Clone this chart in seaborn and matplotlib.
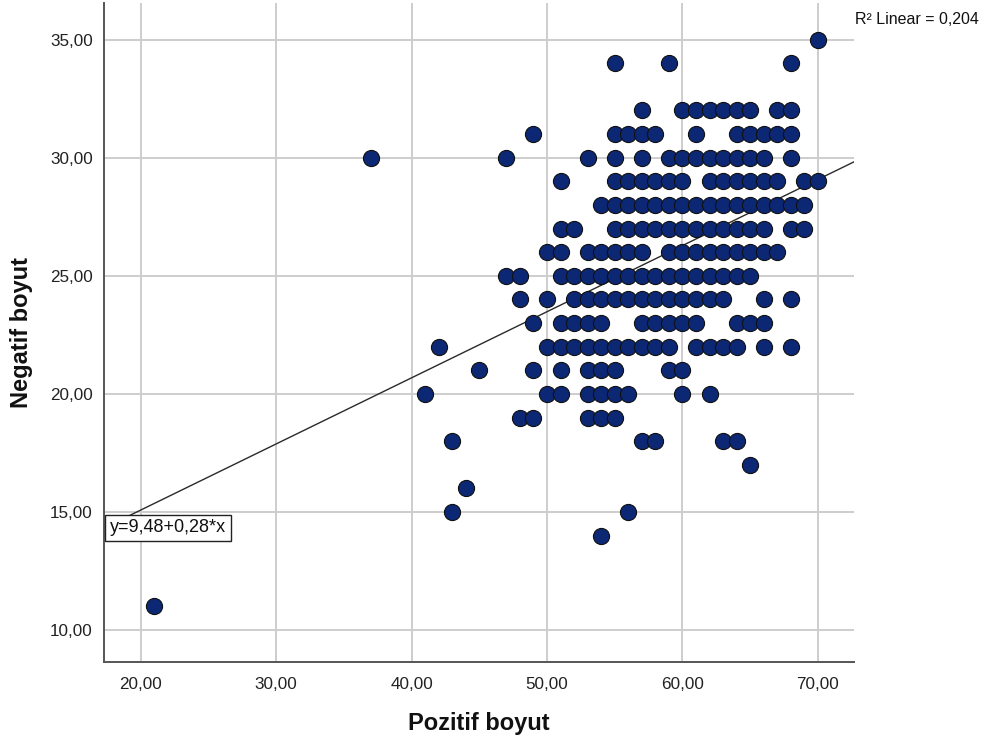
import matplotlib
matplotlib.use("Agg")
import matplotlib.pyplot as plt
import seaborn as sns
import numpy as np
import pandas as pd

# Negatif boyut levels and the Pozitif boyut scores observed at each level
negatif_levels = [35, 34, 32, 31, 30, 29, 28, 27, 26, 25, 24, 23, 22, 21, 20, 19, 18, 17, 16, 15, 14, 11]
pozitif_by_level = [
    [70],
    [55, 59, 68],
    [57, 60, 61, 62, 63, 64, 65, 67, 68],
    [49, 55, 56, 57, 58, 61, 64, 65, 66, 67, 68],
    [37, 47, 53, 55, 57, 59, 60, 61, 62, 63, 64, 65, 66, 68],
    [51, 55, 56, 57, 58, 59, 60, 62, 63, 64, 65, 66, 67, 69, 70],
    [54, 55, 56, 57, 58, 59, 60, 61, 62, 63, 64, 65, 66, 67, 68, 69],
    [51, 52, 55, 56, 57, 58, 59, 60, 61, 62, 63, 64, 65, 66, 68, 69],
    [50, 51, 53, 54, 55, 56, 57, 59, 60, 61, 62, 63, 64, 65, 66, 67],
    [47, 48, 51, 52, 53, 54, 55, 56, 57, 58, 59, 60, 61, 62, 63, 64, 65],
    [48, 50, 52, 53, 54, 55, 56, 57, 58, 59, 60, 61, 62, 63, 66, 68],
    [49, 51, 52, 53, 54, 57, 58, 59, 60, 61, 64, 65, 66],
    [42, 50, 51, 52, 53, 54, 55, 56, 57, 58, 59, 61, 62, 63, 64, 66, 68],
    [45, 49, 51, 53, 54, 55, 59, 60],
    [41, 50, 51, 53, 54, 55, 56, 60, 62],
    [48, 49, 53, 54, 55],
    [43, 57, 58, 63, 64],
    [65],
    [44],
    [43, 56],
    [54],
    [21],
]

# Linear fit reported for the data
fit_intercept = 9.48
fit_slope = 0.28
r2_linear = 0.204

x_ticks = [20, 30, 40, 50, 60, 70]
y_ticks = [10, 15, 20, 25, 30, 35]

rows = []
for lvl, xs in zip(negatif_levels, pozitif_by_level):
    for xv in xs:
        rows.append((xv, lvl))
df = pd.DataFrame(rows, columns=["Pozitif boyut", "Negatif boyut"])

sns.set_theme(style="white")
plt.rcParams["font.family"] = ["Liberation Sans", "DejaVu Sans"]

W, H = 991, 740
fig = plt.figure(figsize=(W / 100, H / 100), dpi=100)
ax = fig.add_axes([104 / W, 1 - 662 / H, (854 - 104) / W, (662 - 3) / H])

xlim = (17.3, 72.66)
ylim = (8.65, 36.55)
ax.set_xlim(*xlim)
ax.set_ylim(*ylim)

ax.set_xticks(x_ticks)
ax.set_yticks(y_ticks)
ax.set_xticklabels([f"{v:.2f}".replace(".", ",") for v in x_ticks])
ax.set_yticklabels([f"{v:.2f}".replace(".", ",") for v in y_ticks])
ax.grid(True, color="#cdcdcd", linewidth=1.4, zorder=0)
ax.set_axisbelow(True)
ax.tick_params(axis="both", length=0, labelsize=12.3, colors="#222222")
ax.tick_params(axis="x", pad=11)
ax.tick_params(axis="y", pad=8)

for side in ("top", "right"):
    ax.spines[side].set_visible(False)
for side in ("left", "bottom"):
    ax.spines[side].set_color("#555555")
    ax.spines[side].set_linewidth(1.4)

# Fit line across the x range
xl = np.array(xlim)
ax.plot(xl, fit_intercept + fit_slope * xl, color="#2a2a2a", linewidth=1.0, zorder=2)

sns.scatterplot(data=df, x="Pozitif boyut", y="Negatif boyut", ax=ax,
                s=135, color="#0c2773", edgecolor="#111111", linewidth=0.8,
                zorder=3, legend=False)

ax.set_xlabel("Pozitif boyut", fontsize=17, fontweight="bold", labelpad=14, color="#111111")
ax.set_ylabel("Negatif boyut", fontsize=17, fontweight="bold", labelpad=12, color="#111111")

eq = f"y={fit_intercept:.2f}+{fit_slope:.2f}*x".replace(".", ",")
ax.text(110 / W, 1 - 528 / H, eq, transform=fig.transFigure, fontsize=13,
        va="center", ha="left", color="#111111", zorder=5,
        bbox=dict(boxstyle="square,pad=0.25", facecolor="white", edgecolor="#222222", linewidth=1.0))

ax.text(855 / W, 1 - 20 / H, f"R² Linear = {r2_linear:.3f}".replace(".", ","),
        transform=fig.transFigure, fontsize=11.5, va="center", ha="left", color="#111111")

fig.savefig("out.png", dpi=100, facecolor="white")
